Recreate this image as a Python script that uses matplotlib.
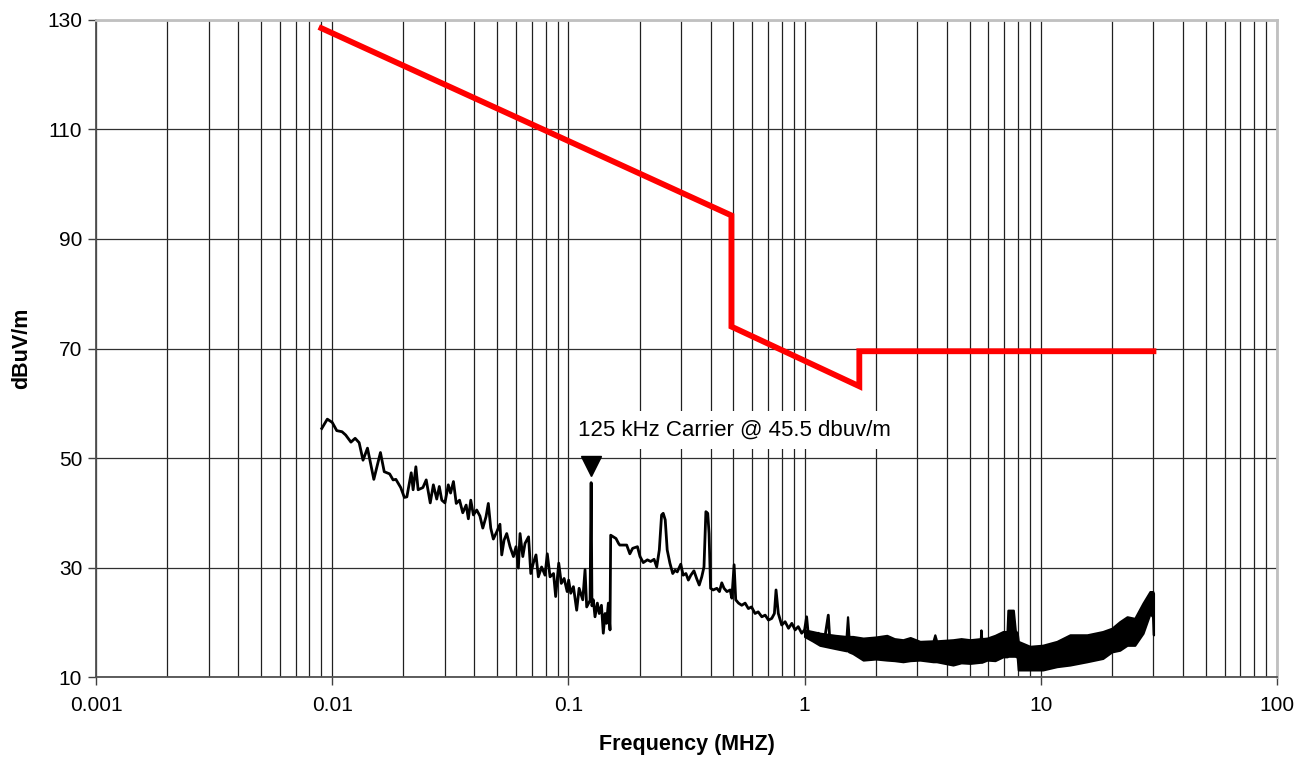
import matplotlib
matplotlib.use('Agg')

import matplotlib.pyplot as plt
from matplotlib.ticker import FixedLocator, NullFormatter

plt.rcParams['font.family'] = ['Liberation Sans', 'DejaVu Sans']

# limit line (dBuV/m)
limit_freq = [0.009, 0.49, 0.49, 1.705, 1.705, 30.0]
limit_level = [128.5, 94.3, 74.0, 63.1, 69.5, 69.5]

trace_freq = [
    0.00903, 0.00953, 0.0100, 0.01045, 0.0110, 0.0114, 0.0120, 0.0125, 0.0130, 0.0135,
    0.0141, 0.0150, 0.0160, 0.0166, 0.0175, 0.0181, 0.0186, 0.0195, 0.0202, 0.0207,
    0.0216, 0.0220, 0.0226, 0.0231, 0.0242, 0.0250, 0.0260, 0.0268, 0.0277, 0.0284,
    0.0291, 0.0300, 0.0310, 0.0317, 0.0326, 0.0335, 0.0346, 0.0357, 0.0369, 0.0377,
    0.0386, 0.0396, 0.0409, 0.0422, 0.0434, 0.0448, 0.0458, 0.0469, 0.0481, 0.0497,
    0.0513, 0.0522, 0.0534, 0.0548, 0.0566, 0.0585, 0.0600, 0.0614, 0.0624, 0.0641,
    0.0655, 0.0678, 0.0693, 0.0710, 0.0729, 0.0746, 0.0770, 0.0796, 0.0814, 0.0836,
    0.0865, 0.0883, 0.0910, 0.0933, 0.0959, 0.0988, 0.1002, 0.1023, 0.105, 0.1084,
    0.111, 0.115, 0.1176, 0.1195, 0.1235, 0.1248, 0.1258, 0.1275, 0.1296, 0.1326,
    0.135, 0.138, 0.1405, 0.143, 0.145, 0.1476, 0.150, 0.151, 0.155, 0.159,
    0.163, 0.165, 0.171, 0.1765, 0.182, 0.187, 0.196, 0.201, 0.2075, 0.216,
    0.223, 0.2305, 0.2365, 0.2426, 0.248, 0.252, 0.257, 0.262, 0.269, 0.2765,
    0.283, 0.289, 0.299, 0.306, 0.3145, 0.322, 0.330, 0.340, 0.349, 0.358,
    0.367, 0.375, 0.382, 0.389, 0.394, 0.400, 0.410, 0.425, 0.436, 0.446,
    0.456, 0.469, 0.484, 0.492, 0.503, 0.511, 0.525, 0.542, 0.560, 0.578,
    0.596, 0.617, 0.636, 0.659, 0.681, 0.703, 0.726, 0.745, 0.757, 0.774,
    0.800, 0.827, 0.855, 0.883, 0.912, 0.940, 0.972, 1.00, 1.02, 1.037,
    1.072, 1.106, 1.143, 1.18, 1.22, 1.26, 1.28, 1.32, 1.37,
]
trace_level = [
    55.4, 57.1, 56.5, 55.0, 54.8, 54.2, 52.9, 53.6, 52.8, 49.6,
    51.8, 46.1, 51.0, 47.5, 47.1, 46.0, 46.1, 44.6, 42.8, 42.9,
    47.3, 44.2, 48.4, 44.2, 44.6, 46.0, 41.8, 45.1, 42.5, 44.8,
    42.3, 41.8, 45.1, 43.6, 45.7, 41.7, 42.3, 40.0, 41.4, 38.9,
    42.3, 39.6, 40.5, 39.4, 37.2, 39.3, 41.7, 37.2, 35.2, 36.5,
    37.9, 32.3, 35.0, 36.2, 33.8, 32.0, 33.8, 29.9, 36.2, 32.0,
    34.4, 35.6, 28.9, 30.8, 32.3, 28.3, 30.1, 28.6, 32.5, 28.3,
    28.9, 24.7, 30.8, 27.1, 28.0, 25.6, 27.7, 25.3, 26.5, 22.2,
    26.2, 24.1, 29.6, 22.8, 24.0, 45.5, 23.0, 24.1, 21.0, 23.5,
    21.6, 23.1, 18.0, 21.6, 19.8, 23.5, 18.6, 35.9, 35.6, 35.3,
    34.4, 34.1, 34.1, 34.1, 32.5, 33.5, 33.8, 32.0, 30.9, 31.4,
    31.1, 31.5, 30.1, 33.2, 39.6, 39.9, 38.7, 33.2, 30.8, 28.9,
    29.5, 29.2, 30.6, 28.6, 28.9, 27.7, 28.6, 29.4, 28.0, 26.8,
    28.3, 30.1, 40.2, 39.9, 36.2, 26.2, 25.9, 26.2, 25.6, 27.2,
    26.2, 25.6, 25.9, 24.4, 30.5, 24.1, 23.5, 23.1, 23.5, 22.5,
    22.8, 21.6, 21.9, 21.0, 21.3, 20.4, 20.7, 21.6, 25.9, 21.6,
    19.5, 20.1, 18.9, 19.8, 18.6, 19.2, 18.0, 18.6, 21.0, 17.7,
    18.0, 17.1, 18.0, 16.8, 17.4, 21.3, 16.5, 17.1, 16.2,
]

# dense noise floor above ~1 MHz: upper / lower envelope
band_freq = [1.00, 1.08, 1.16, 1.35, 1.50, 1.52, 1.54, 1.60, 1.77, 2.0, 2.23, 2.4,
             2.61, 2.8, 3.08, 3.5, 3.56, 3.62, 4.25, 4.6, 5.02, 5.55,
             5.58, 5.62, 5.93, 6.4, 6.92, 7.2, 7.26, 7.65, 7.8, 7.95,
             8.03, 9.0, 10.2, 11.7, 13.3, 15.7, 18.3, 20.0, 21.6, 23.2,
             25.0, 27.1, 29.0, 29.8, 30.0]
band_hi = [18.6, 18.3, 18.0, 17.6, 17.4, 21.0, 17.4, 17.4, 17.1, 17.3, 17.6, 17.0,
           16.8, 17.2, 16.5, 16.6, 17.7, 16.6, 16.8, 17.0, 16.8, 17.0,
           18.6, 17.0, 17.1, 17.6, 18.3, 18.3, 22.2, 22.2, 18.5, 18.0,
           16.5, 15.6, 15.8, 16.5, 17.7, 17.7, 18.3, 18.9, 20.1, 21.0,
           20.7, 23.5, 25.6, 25.6, 25.3]
band_lo = [17.4, 16.6, 15.8, 15.2, 14.8, 14.8, 14.6, 14.3, 13.1, 13.3, 13.1, 13.0,
           12.8, 13.0, 13.1, 12.8, 12.8, 12.8, 12.2, 12.6, 12.5, 12.7,
           12.7, 12.7, 13.1, 13.0, 13.7, 13.7, 13.8, 13.8, 13.8, 13.6,
           11.3, 11.3, 11.3, 11.9, 12.2, 12.8, 13.4, 14.6, 14.9, 15.8,
           15.8, 18.0, 21.6, 21.0, 17.7]

carrier_freq = 0.125
carrier_marker_level = 48.6
note = '125 kHz Carrier @ 45.5 dbuv/m'

fig = plt.figure(figsize=(13.07, 7.63), dpi=100)
ax = fig.add_axes([0.0735, 0.1127, 0.9035, 0.8611])

ax.plot(trace_freq, trace_level, color='black', lw=2, zorder=3)
ax.fill_between(band_freq, band_lo, band_hi, color='black', lw=1.6, zorder=3)
ax.plot(limit_freq, limit_level, color='#ff0000', lw=4.2, solid_joinstyle='miter', zorder=4)

ax.plot(carrier_freq, carrier_marker_level, marker='v', ms=14, color='black', zorder=5)
ax.text(0.1098, 55.1, note, fontsize=16, ha='left', va='center', zorder=6,
        bbox=dict(facecolor='white', edgecolor='none', pad=6))

ax.set_xscale('log')
ax.set_xlim(0.001, 100)
ax.set_ylim(10, 130)

xt = [0.001, 0.01, 0.1, 1, 10, 100]
ax.xaxis.set_major_locator(FixedLocator(xt))
ax.set_xticklabels(['0.001', '0.01', '0.1', '1', '10', '100'])
minors = [m * 10.0 ** e for e in range(-3, 2) for m in range(2, 10)]
ax.xaxis.set_minor_locator(FixedLocator(minors))
ax.xaxis.set_minor_formatter(NullFormatter())
ax.set_yticks([10, 30, 50, 70, 90, 110, 130])

ax.tick_params(axis='both', which='major', labelsize=15, length=6, width=1,
               color='#404040', direction='out')
ax.tick_params(axis='y', pad=4)
ax.tick_params(axis='x', pad=8)
ax.tick_params(axis='x', which='minor', length=0)

ax.grid(True, axis='x', which='both', color='#202020', lw=0.9, zorder=0)
ax.grid(True, axis='y', which='major', color='#303030', lw=0.9, zorder=0)
ax.set_axisbelow(True)

for s in ['left', 'bottom']:
    ax.spines[s].set_color('#505050')
    ax.spines[s].set_linewidth(1.3)
for s in ['top', 'right']:
    ax.spines[s].set_color('#c0c0c0')
    ax.spines[s].set_linewidth(2)

ax.set_xlabel('Frequency (MHZ)', fontsize=15.5, fontweight='bold')
ax.set_ylabel('dBuV/m', fontsize=15.5, fontweight='bold')
ax.xaxis.set_label_coords(0.5, -0.087)
ax.yaxis.set_label_coords(-0.054, 0.5)

fig.savefig('out.png', dpi=100)
